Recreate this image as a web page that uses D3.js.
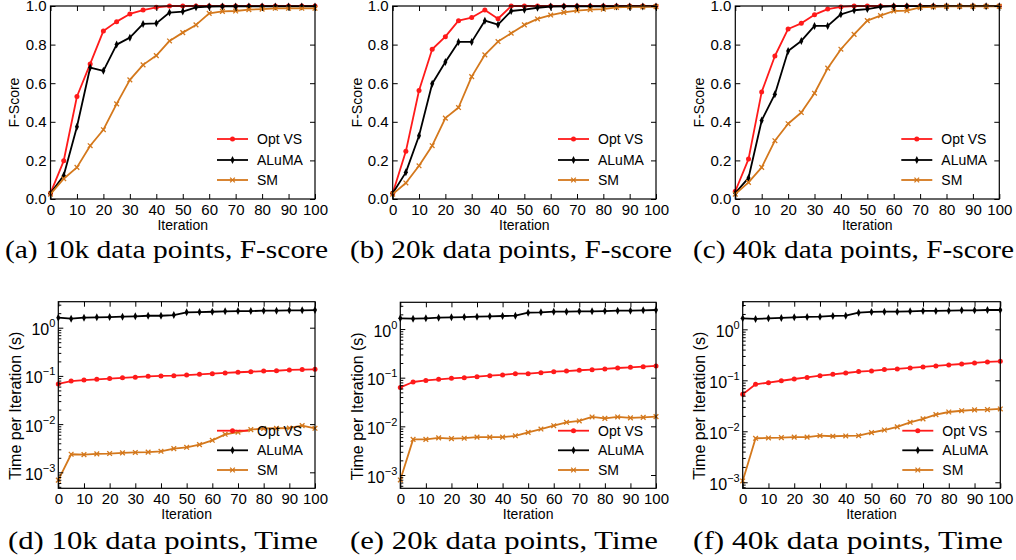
<!DOCTYPE html>
<html>
<head>
<meta charset="utf-8">
<script src="https://cdn.jsdelivr.net/npm/d3@7"></script>
<style>
  body { margin: 0; background: #fff; }
  text { font-family: "Liberation Sans", Arial, sans-serif; fill: #000; }
  .caption { font-family: "Liberation Serif", "Times New Roman", serif; }
</style>
</head>
<body>
<div id="chart"></div>
<script>
// iteration values shared by every panel
const iterations = [0,5,10,15,20,25,30,35,40,45,50,55,60,65,70,75,80,85,90,95,100];
const seriesNames = ['Opt VS', 'ALuMA', 'SM'];
const xTicks = [0,10,20,30,40,50,60,70,80,90,100];
const fTicks = [0,0.2,0.4,0.6,0.8,1.0];
const logTicks = [1e-3,1e-2,1e-1,1];

// F-score, 10k / 20k / 40k data points
const optVS_f10k = [0.03,0.198,0.531,0.70,0.871,0.919,0.959,0.979,0.993,1,1,1,1,1,1,1,1,1,1,1,1];
const aluma_f10k = [0.03,0.122,0.374,0.681,0.664,0.80,0.836,0.907,0.91,0.966,0.971,0.993,0.997,0.998,0.998,0.998,0.998,0.998,0.998,0.998,0.998];
const sm_f10k    = [0.025,0.105,0.164,0.276,0.359,0.493,0.617,0.695,0.743,0.819,0.862,0.902,0.962,0.972,0.974,0.981,0.984,0.988,0.988,0.988,0.988];

const optVS_f20k = [0.03,0.247,0.562,0.776,0.841,0.924,0.94,0.979,0.934,1,1,1,1,1,1,1,1,1,1,1,1];
const aluma_f20k = [0.03,0.138,0.328,0.597,0.71,0.814,0.814,0.924,0.903,0.974,0.981,0.991,0.997,0.998,0.998,0.998,0.998,0.998,0.998,0.998,0.998];
const sm_f20k    = [0.025,0.083,0.172,0.276,0.419,0.474,0.634,0.747,0.816,0.859,0.902,0.933,0.953,0.967,0.976,0.981,0.984,0.993,0.995,0.995,0.997];

const optVS_f40k = [0.04,0.207,0.555,0.741,0.881,0.91,0.955,0.984,0.995,1,1,1,1,1,1,1,1,1,1,1,1];
const aluma_f40k = [0.03,0.109,0.407,0.543,0.767,0.819,0.897,0.897,0.957,0.978,0.984,0.995,0.999,0.999,0.999,0.999,0.999,0.999,0.999,0.999,0.999];
const sm_f40k    = [0.025,0.086,0.164,0.302,0.39,0.448,0.548,0.678,0.776,0.853,0.924,0.95,0.974,0.976,0.993,0.995,0.998,0.998,0.998,0.998,0.998];

// time per iteration (s), 10k / 20k / 40k data points
const optVS_t10k = [0.068,0.078,0.082,0.085,0.088,0.091,0.094,0.098,0.1,0.101,0.104,0.108,0.111,0.115,0.119,0.122,0.126,0.128,0.133,0.135,0.137];
const aluma_t10k = [1.61,1.54,1.61,1.64,1.66,1.69,1.72,1.77,1.77,1.83,2.08,2.11,2.14,2.18,2.21,2.21,2.25,2.25,2.29,2.29,2.32];
const sm_t10k    = [0.00069,0.00237,0.00233,0.00241,0.00245,0.00253,0.00258,0.00262,0.00273,0.0031,0.0033,0.00375,0.00461,0.00614,0.0068,0.00768,0.0081,0.0082,0.0083,0.0093,0.0082];

const optVS_t20k = [0.063,0.0815,0.088,0.0925,0.097,0.1,0.105,0.11,0.114,0.121,0.121,0.127,0.133,0.137,0.142,0.146,0.151,0.158,0.163,0.168,0.174];
const aluma_t20k = [1.66,1.63,1.66,1.71,1.74,1.76,1.79,1.82,1.85,1.88,2.17,2.2,2.27,2.27,2.31,2.31,2.34,2.38,2.38,2.42,2.46];
const sm_t20k    = [0.00079,0.0054,0.0054,0.0058,0.0056,0.0057,0.006,0.006,0.006,0.0064,0.0075,0.0088,0.0103,0.0121,0.0129,0.0156,0.0146,0.0156,0.0149,0.0153,0.0158];

const optVS_t40k = [0.053,0.0835,0.09,0.098,0.106,0.114,0.123,0.131,0.139,0.148,0.153,0.162,0.167,0.175,0.183,0.191,0.2,0.209,0.219,0.229,0.236];
const aluma_t40k = [1.64,1.6,1.64,1.67,1.72,1.75,1.77,1.83,1.85,2.12,2.19,2.22,2.22,2.25,2.29,2.29,2.32,2.36,2.36,2.39,2.39];
const sm_t40k    = [0.00106,0.0073,0.0074,0.0075,0.0077,0.0077,0.0082,0.008,0.0081,0.0082,0.0094,0.0106,0.0122,0.015,0.0175,0.0212,0.0239,0.0253,0.0263,0.0266,0.0274];

const colors = {'Opt VS': '#ff1a1a', 'ALuMA': '#000000', 'SM': '#d4781c'};

const width = 1016, height = 560;
const svg = d3.select('#chart').append('svg')
    .attr('width', width)
    .attr('height', height);

// panel frames (layout only)
const panels = [
  {x0: 50.5, x1: 315, y0: 6, y1: 199, log: false, series: [optVS_f10k, aluma_f10k, sm_f10k],
   caption: '(a) 10k data points, F-score', capX: 5, capW: 323},
  {x0: 392.7, x1: 656, y0: 6, y1: 199, log: false, series: [optVS_f20k, aluma_f20k, sm_f20k],
   caption: '(b) 20k data points, F-score', capX: 350, capW: 322},
  {x0: 735.3, x1: 999.3, y0: 6, y1: 199, log: false, series: [optVS_f40k, aluma_f40k, sm_f40k],
   caption: '(c) 40k data points, F-score', capX: 693, capW: 321},
  {x0: 58.3, x1: 315, y0: 301.7, y1: 488.3, log: true, domain: [4.66e-4, 3.46], series: [optVS_t10k, aluma_t10k, sm_t10k],
   caption: '(d) 10k data points, Time', capX: 8, capW: 310},
  {x0: 400.3, x1: 656, y0: 302.3, y1: 488.3, log: true, domain: [5.33e-4, 3.54], series: [optVS_t20k, aluma_t20k, sm_t20k],
   caption: '(e) 20k data points, Time', capX: 350, capW: 308},
  {x0: 742.7, x1: 1000.3, y0: 301.7, y1: 488.3, log: true, domain: [7.62e-4, 3.48], series: [optVS_t40k, aluma_t40k, sm_t40k],
   caption: '(f) 40k data points, Time', capX: 693, capW: 310}
];

function drawMarker(g, name, x, y) {
  const c = colors[name];
  if (name === 'Opt VS') {
    g.append('circle').attr('cx', x).attr('cy', y).attr('r', 2.5).attr('fill', c);
  } else if (name === 'ALuMA') {
    g.append('path').attr('d', `M${x},${y-4}L${x+2},${y}L${x},${y+4}L${x-2},${y}Z`).attr('fill', c);
  } else {
    g.append('path').attr('d', d3.symbol(d3.symbolTimes, 16)()).attr('transform', `translate(${x},${y})`)
      .attr('fill', 'none').attr('stroke', c).attr('stroke-width', 1.3);
  }
}

panels.forEach(p => {
  const g = svg.append('g');
  const xScale = d3.scaleLinear().domain([0, 100]).range([p.x0, p.x1]);
  const yScale = p.log
    ? d3.scaleLog().domain(p.domain).range([p.y1, p.y0])
    : d3.scaleLinear().domain([0, 1]).range([p.y1, p.y0]);

  const lineGen = d3.line().x((d, i) => xScale(iterations[i])).y(d => yScale(d));
  p.series.forEach((vals, si) => {
    const name = seriesNames[si];
    g.append('path').datum(vals)
      .attr('d', lineGen)
      .attr('fill', 'none')
      .attr('stroke', colors[name])
      .attr('stroke-width', 1.8)
      .attr('stroke-linejoin', 'round');
    vals.forEach((v, i) => drawMarker(g, name, xScale(iterations[i]), yScale(v)));
  });

  // bottom and top x axis, ticks pointing inward
  g.append('g').attr('transform', `translate(0,${p.y1})`)
    .call(d3.axisBottom(xScale).tickValues(xTicks).tickSizeInner(-5).tickSizeOuter(0).tickPadding(5))
    .call(a => a.select('.domain').remove())
    .call(a => a.selectAll('text').style('font-size', '15px'));
  g.append('g').attr('transform', `translate(0,${p.y0})`)
    .call(d3.axisTop(xScale).tickValues(xTicks).tickSizeInner(-5).tickSizeOuter(0).tickFormat(''))
    .call(a => a.select('.domain').remove());

  if (!p.log) {
    g.append('g').attr('transform', `translate(${p.x0},0)`)
      .call(d3.axisLeft(yScale).tickValues(fTicks).tickFormat(d3.format('.1f')).tickSizeInner(-5).tickSizeOuter(0).tickPadding(4))
      .call(a => a.select('.domain').remove())
      .call(a => a.selectAll('text').style('font-size', '15px'));
    g.append('g').attr('transform', `translate(${p.x1},0)`)
      .call(d3.axisRight(yScale).tickValues(fTicks).tickSizeInner(-5).tickSizeOuter(0).tickFormat(''))
      .call(a => a.select('.domain').remove());
  } else {
    const minor = [];
    [-4,-3,-2,-1,0].forEach(e => { for (let m = 2; m <= 9; m++) minor.push(m * Math.pow(10, e)); });
    const minorIn = minor.filter(v => v >= p.domain[0] && v <= p.domain[1]);
    g.append('g').attr('transform', `translate(${p.x0},0)`)
      .call(d3.axisLeft(yScale).tickValues(minorIn).tickSizeInner(-3).tickSizeOuter(0).tickFormat(''))
      .call(a => a.select('.domain').remove());
    const yAx = g.append('g').attr('transform', `translate(${p.x0},0)`)
      .call(d3.axisLeft(yScale).tickValues(logTicks).tickSizeInner(-5).tickSizeOuter(0).tickFormat(''))
      .call(a => a.select('.domain').remove());
    yAx.selectAll('.tick').each(function(d) {
      const e = Math.round(Math.log10(d));
      const t = d3.select(this).append('text')
        .attr('x', -3).attr('y', 7)
        .attr('text-anchor', 'end')
        .style('font-size', '16px').attr('fill', '#000');
      t.append('tspan').text('10');
      t.append('tspan').attr('dy', -8).style('font-size', '11px').text(String(e).replace('-', '\u2212'));
    });
    g.append('g').attr('transform', `translate(${p.x1},0)`)
      .call(d3.axisRight(yScale).tickValues(logTicks).tickSizeInner(-5).tickSizeOuter(0).tickFormat(''))
      .call(a => a.select('.domain').remove());
  }
  g.selectAll('.tick line').attr('stroke', '#000');

  // frame
  g.append('rect')
    .attr('x', p.x0).attr('y', p.y0)
    .attr('width', p.x1 - p.x0).attr('height', p.y1 - p.y0)
    .attr('fill', 'none').attr('stroke', '#000').attr('stroke-width', 1.2);

  // axis titles
  g.append('text')
    .attr('x', (p.x0 + p.x1) / 2)
    .attr('y', p.y1 + 31)
    .attr('text-anchor', 'middle')
    .style('font-size', '14px')
    .text('Iteration');
  const yLabelX = p.log ? p.x0 - 43 : p.x0 - 36;
  const yLabelY = p.log ? p.y0 + 104 : (p.y0 + p.y1) / 2;
  g.append('text')
    .attr('transform', `translate(${yLabelX},${yLabelY}) rotate(-90)`)
    .attr('dy', '0.35em')
    .attr('text-anchor', 'middle')
    .style('font-size', p.log ? '16px' : '14px')
    .text(p.log ? 'Time per Iteration (s)' : 'F-Score');

  // legend, drawn over the lines
  const legRows = p.log ? [430.7, 450.3, 470] : [139, 160, 180];
  seriesNames.forEach((name, i) => {
    const ly = legRows[i];
    const lx1 = p.x1 - 98, lx2 = p.x1 - 67;
    g.append('line').attr('x1', lx1).attr('x2', lx2).attr('y1', ly).attr('y2', ly)
      .attr('stroke', colors[name]).attr('stroke-width', 1.8);
    drawMarker(g, name, (lx1 + lx2) / 2, ly);
    g.append('text').attr('x', p.x1 - 58).attr('y', ly).attr('dy', '0.36em')
      .style('font-size', '14px').text(name);
  });

  // caption
  svg.append('text')
    .attr('class', 'caption')
    .attr('x', p.capX)
    .attr('y', p.log ? 549 : 258)
    .attr('textLength', p.capW)
    .attr('lengthAdjust', 'spacingAndGlyphs')
    .style('font-size', '25px')
    .text(p.caption);
});
</script>
</body>
</html>
